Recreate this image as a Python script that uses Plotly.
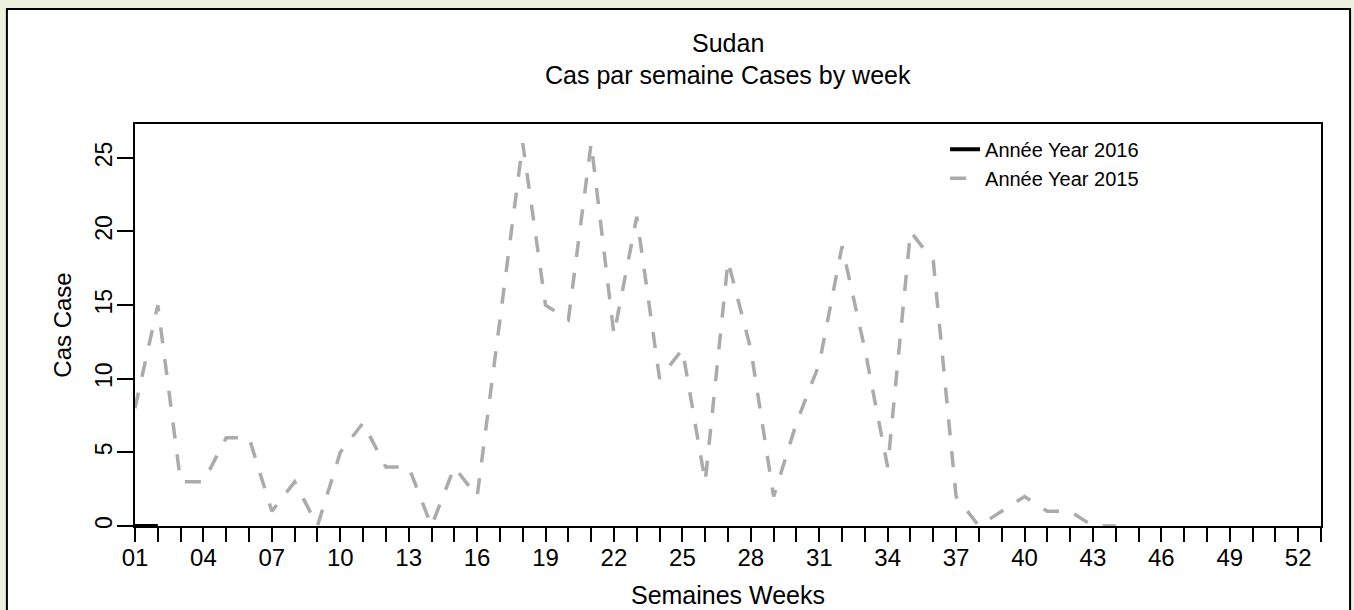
import plotly.graph_objects as go

# weekly cases
weeks_2016 = [1, 2]
cases_2016 = [0, 0]

weeks_2015 = list(range(1, 45))
cases_2015 = [8, 15, 3, 3, 6, 6, 1, 3, 0, 5,
              7, 4, 4, 0, 4, 2, 14, 26, 15, 14,
              26, 13, 21, 10, 12, 3, 18, 12, 2, 7,
              11, 19, 12, 4, 20, 18, 2, 0, 1, 2,
              1, 1, 0, 0]

all_weeks = list(range(1, 54))
week_labels = [f"{w:02d}" if (w - 1) % 3 == 0 else "" for w in all_weeks]
y_ticks = [0, 5, 10, 15, 20, 25]

FONT = "Liberation Sans, Arial, sans-serif"

fig = go.Figure()
fig.add_trace(go.Scatter(
    x=weeks_2015, y=cases_2015, mode="lines", name="Année Year 2015",
    line=dict(color="#ABABAB", width=3.5, dash="16px,16px"),
))
fig.add_trace(go.Scatter(
    x=weeks_2016, y=cases_2016, mode="lines", name="Année Year 2016",
    line=dict(color="black", width=4),
))

# white panel with black border on the green page
fig.add_shape(type="rect", xref="paper", yref="paper",
              x0=-0.108, x1=1.0245, y0=-0.3, y1=1.286,
              fillcolor="white", line=dict(color="black", width=2), layer="below")

fig.add_annotation(text="Sudan", xref="paper", yref="paper", x=0.5, y=1.201,
                   showarrow=False, yanchor="middle", font=dict(size=25, color="black"))
fig.add_annotation(text="Cas par semaine Cases by week", xref="paper", yref="paper",
                   x=0.5, y=1.121, showarrow=False, yanchor="middle",
                   font=dict(size=25, color="black"))

fig.update_layout(
    width=1354, height=610,
    margin=dict(l=135, r=33, t=124, b=84),
    paper_bgcolor="#EAF1DD",
    plot_bgcolor="white",
    font=dict(family=FONT, color="black", size=24),
    showlegend=True,
    legend=dict(x=0.683, y=0.986, xanchor="left", yanchor="top",
                bgcolor="rgba(0,0,0,0)", traceorder="reversed",
                font=dict(size=20, color="black")),
    xaxis=dict(
        range=[1, 53], tickmode="array", tickvals=all_weeks, ticktext=week_labels,
        ticks="outside", ticklen=14, tickwidth=2, tickcolor="black",
        ticklabelstandoff=-5, tickfont=dict(size=24),
        showline=True, linecolor="black", linewidth=2, mirror=True,
        showgrid=False, zeroline=False, automargin=False,
        title=dict(text="Semaines Weeks", standoff=17, font=dict(size=25)),
    ),
    yaxis=dict(
        range=[0, 27.3], tickmode="array", tickvals=y_ticks, tickangle=-90,
        ticks="outside", ticklen=16, tickwidth=2, tickcolor="black",
        ticklabelstandoff=-4, tickfont=dict(size=23),
        showline=True, linecolor="black", linewidth=2, mirror=True,
        showgrid=False, zeroline=False, automargin=False,
        title=dict(text="Cas Case", standoff=12, font=dict(size=24)),
    ),
)

fig.write_html("out.html", config={"displayModeBar": False},
               post_script="document.body.style.margin = '0';")
